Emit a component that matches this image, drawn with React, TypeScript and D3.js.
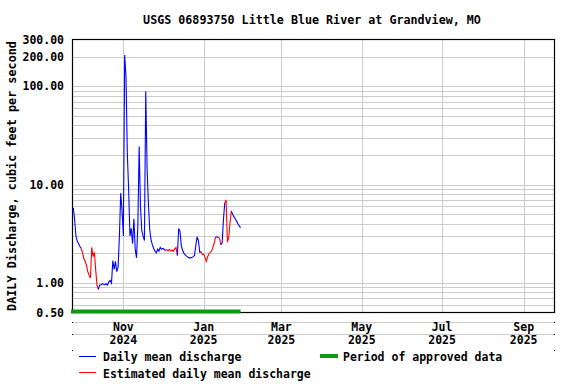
import * as d3 from 'd3'

const chartTitle = 'USGS 06893750 Little Blue River at Grandview, MO'
const yAxisTitle = 'DAILY Discharge, cubic feet per second'

// daily mean discharge (cfs) starting 2024-09-24
const firstDay = '2024-09-24'
const dailyFlow = [
  5.8, 4.4, 3.0, 2.65, 2.5, 2.35, 2.25, 2.02, 1.77, 1.66,
  1.51, 1.3, 1.2, 1.12, 2.3, 1.85, 2.05, 1.35, 0.95, 0.86,
  0.95, 0.96, 0.98, 0.97, 0.96, 0.98, 0.95, 1.03, 1.06, 1.0,
  1.69, 1.37, 1.66, 1.3, 1.45, 3.0, 8.2, 5.4, 3.0, 209,
  126, 21, 9, 3.0, 3.6, 2.5, 4.5, 2.2, 1.8, 3.8,
  24.5, 6, 3.4, 3.0, 2.7, 89, 15, 6.5, 3.5, 2.76,
  2.45, 2.25, 2.1, 2.02, 2.2, 2.1, 2.3, 2.2, 2.25, 2.2,
  2.13, 2.18, 2.12, 2.2, 2.12, 2.16, 2.1, 2.22, 2.3, 1.9,
  3.57, 3.35, 2.4, 2.15, 2.0, 1.93, 1.87, 1.82, 1.8, 1.8,
  1.81, 1.85, 1.9, 2.4, 2.94, 2.7, 2.05, 2.07, 1.95, 1.95,
  1.82, 1.66, 1.85, 1.97, 2.05, 2.1, 2.3, 2.55, 2.92, 2.95,
  2.92, 2.85, 2.45, 2.55, 4.4, 6.5, 7.0, 2.6, 2.9, 4.1,
  5.35, 5.0, 4.7, 4.5, 4.25, 4.0, 3.8, 3.65,
]
// 1 = estimated value (drawn red)
const estimated = [
  0, 0, 0, 0, 0, 0, 0, 1, 1, 1,
  1, 1, 1, 1, 1, 1, 1, 1, 1, 1,
  0, 0, 0, 0, 0, 0, 0, 0, 0, 0,
  0, 0, 0, 0, 0, 0, 0, 0, 0, 0,
  0, 0, 0, 0, 0, 0, 0, 0, 0, 0,
  0, 0, 0, 0, 0, 0, 0, 0, 0, 0,
  0, 0, 0, 0, 0, 0, 0, 0, 0, 0,
  0, 1, 1, 1, 1, 1, 1, 1, 1, 1,
  0, 0, 0, 0, 0, 0, 0, 0, 0, 0,
  0, 0, 0, 0, 0, 0, 0, 0, 1, 1,
  1, 1, 1, 1, 1, 1, 1, 1, 1, 0,
  0, 1, 1, 0, 0, 0, 1, 1, 1, 1,
  1, 0, 0, 0, 0, 0, 0, 0,
]

const xDomain = ['2024-09-23', '2025-09-24']
const xTickDates = ['2024-11-01', '2025-01-01', '2025-03-01', '2025-05-01', '2025-07-01', '2025-09-01']
const yDomain = [0.5, 300]
const yTickLabels = [0.5, 1, 10, 100, 200, 300]
const yGridValues = [
  0.6, 0.7, 0.8, 0.9, 1, 2, 3, 4, 5, 6, 7, 8, 9,
  10, 20, 30, 40, 50, 60, 70, 80, 90, 100, 200,
]
const legendLabels = ['Daily mean discharge', 'Estimated daily mean discharge', 'Period of approved data']

const W = 576
const H = 384
const left = 72
const right = 554
const top = 39.5
const bottom = 312.5
const font = "'DejaVu Sans Mono', monospace"
const blue = '#0000ff'
const red = '#ff0000'
const green = '#119911'
const grid = '#cccccc'

const parse = d3.timeParse('%Y-%m-%d')

function App() {
  const x = d3.scaleTime()
    .domain(xDomain.map(d => parse(d)!))
    .range([left, right])
  const y = d3.scaleLog()
    .domain(yDomain)
    .range([bottom, top])

  const start = parse(firstDay)!
  const points = dailyFlow.map((v, i) => ({
    date: d3.timeDay.offset(start, i),
    value: v,
    est: estimated[i] === 1,
  }))

  // group consecutive segments by colour (segment takes the flag of its end day)
  const runs: { color: string; pts: typeof points }[] = []
  for (let i = 1; i < points.length; i++) {
    const color = points[i].est ? red : blue
    const last = runs[runs.length - 1]
    if (last && last.color === color) {
      last.pts.push(points[i])
    } else {
      runs.push({ color, pts: [points[i - 1], points[i]] })
    }
  }

  const line = d3.line<(typeof points)[number]>()
    .x(d => x(d.date))
    .y(d => y(d.value))

  const fmtMonth = d3.timeFormat('%b')
  const fmtYear = d3.timeFormat('%Y')
  const lastX = x(points[points.length - 1].date)

  return (
    <svg width={W} height={H} style={{ position: 'absolute', left: 0, top: 0, background: '#fff' }}
      fontFamily={font} fontWeight="bold">
      <text x={312} y={24} textAnchor="middle" fontSize={11.7}>{chartTitle}</text>

      {/* grid */}
      {yGridValues.map(v => (
        <line key={'gy' + v} x1={left} x2={right} y1={Math.round(y(v)) + 0.5} y2={Math.round(y(v)) + 0.5}
          stroke={grid} strokeWidth={1} />
      ))}
      {xTickDates.map(d => {
        const px = Math.round(x(parse(d)!)) + 0.5
        return <line key={'gx' + d} x1={px} x2={px} y1={top} y2={bottom} stroke={grid} strokeWidth={1} />
      })}

      {/* frame */}
      <rect x={left + 0.5} y={top} width={right - left} height={bottom - top} fill="none" stroke="#000" strokeWidth={1.2} />

      {/* y labels */}
      {yTickLabels.map(v => (
        <text key={'yl' + v} x={64} y={y(v) + 4} textAnchor="end" fontSize={11.5}>{v.toFixed(2)}</text>
      ))}
      <text transform={`translate(16,176) rotate(-90)`} textAnchor="middle" fontSize={11.8}>{yAxisTitle}</text>

      {/* x label rows */}
      {[322.5, 334.5].map(ry => (
        <line key={'row' + ry} x1={left} x2={right} y1={ry} y2={ry} stroke={grid} strokeWidth={1} />
      ))}
      {[322, 334, 350].map(ry => (
        <g key={'dot' + ry}>
          <rect x={left} y={ry} width={1} height={1} fill="#000" />
          <rect x={right} y={ry} width={1} height={1} fill="#000" />
        </g>
      ))}
      {xTickDates.map(d => {
        const date = parse(d)!
        const px = x(date)
        return (
          <g key={'xl' + d}>
            <text x={px} y={330.5} textAnchor="middle" fontSize={11.5}>{fmtMonth(date)}</text>
            <text x={px} y={343.5} textAnchor="middle" fontSize={11.5}>{fmtYear(date)}</text>
          </g>
        )
      })}

      {/* data */}
      {runs.map((r, i) => (
        <path key={'run' + i} d={line(r.pts) ?? ''} fill="none" stroke={r.color} strokeWidth={1.1} />
      ))}

      {/* approved period */}
      <rect x={left - 1} y={309.5} width={lastX - left + 1} height={4} fill={green} />

      {/* legend */}
      <line x1={79} x2={96} y1={356.5} y2={356.5} stroke={blue} strokeWidth={1} />
      <text x={103} y={361} fontSize={11.5}>{legendLabels[0]}</text>
      <line x1={79} x2={96} y1={372.5} y2={372.5} stroke={red} strokeWidth={1} />
      <text x={103} y={377.5} fontSize={11.5}>{legendLabels[1]}</text>
      <rect x={320} y={354} width={18} height={4} fill={green} />
      <text x={343} y={361} fontSize={11.5}>{legendLabels[2]}</text>
    </svg>
  )
}

export default App
